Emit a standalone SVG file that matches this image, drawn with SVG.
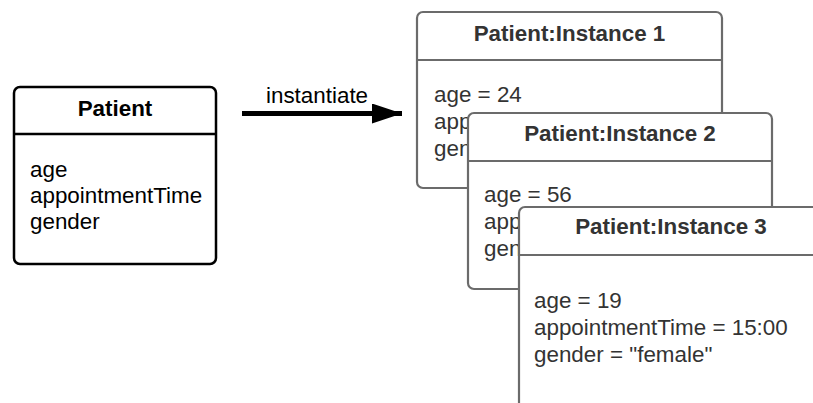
<svg xmlns="http://www.w3.org/2000/svg" width="813" height="403" viewBox="0 0 813 403">
<defs>
<style>
text{font-family:"Liberation Sans",Arial,sans-serif;font-size:22.4px}
.title{font-weight:bold;text-anchor:middle}
.cls rect{fill:#fff;stroke:#000;stroke-width:2.5}
.cls line{stroke:#000;stroke-width:2.5}
.cls text{fill:#000}
.inst rect{fill:#fff;stroke:#6b6b6b;stroke-width:2.2}
.inst line{stroke:#6b6b6b;stroke-width:2.2}
.inst text{fill:#333}
</style>
<marker id="ah" viewBox="0 0 30 20" refX="30" refY="10" markerWidth="30" markerHeight="20" markerUnits="userSpaceOnUse" orient="auto" preserveAspectRatio="none">
<path d="M0,0 L30,10 L0,20 Z" fill="#000"/>
</marker>
</defs>
<g id="patient" class="cls">
<rect x="14" y="87" width="202" height="177" rx="6"/>
<line x1="14" y1="134" x2="216" y2="134"/>
<text class="title" x="115" y="116">Patient</text>
<text x="30" y="177">age</text>
<text x="30" y="203">appointmentTime</text>
<text x="30" y="229">gender</text>
</g>
<g id="connectors">
<line x1="242" y1="113.5" x2="402" y2="113.5" stroke="#000" stroke-width="5" marker-end="url(#ah)"/>
<text x="266" y="103" fill="#000">instantiate</text>
</g>
<g id="instance1" class="inst">
<rect x="417" y="12" width="305" height="176" rx="6"/>
<line x1="417" y1="60" x2="722" y2="60"/>
<text class="title" x="569.5" y="41">Patient:Instance 1</text>
<text x="434" y="102">age = 24</text>
<text x="434" y="129">app</text>
<text x="434" y="156">gen</text>
</g>
<g id="instance2" class="inst">
<rect x="468" y="113" width="304" height="176" rx="6"/>
<line x1="468" y1="161" x2="772" y2="161"/>
<text class="title" x="620" y="141">Patient:Instance 2</text>
<text x="484" y="202">age = 56</text>
<text x="484" y="229">app</text>
<text x="484" y="256">gen</text>
</g>
<g id="instance3" class="inst">
<rect x="519" y="207" width="304" height="220" rx="6"/>
<line x1="519" y1="255" x2="823" y2="255"/>
<text class="title" x="671" y="234">Patient:Instance 3</text>
<text x="534" y="308">age = 19</text>
<text x="534" y="335">appointmentTime = 15:00</text>
<text x="534" y="362">gender = "female"</text>
</g>
</svg>
